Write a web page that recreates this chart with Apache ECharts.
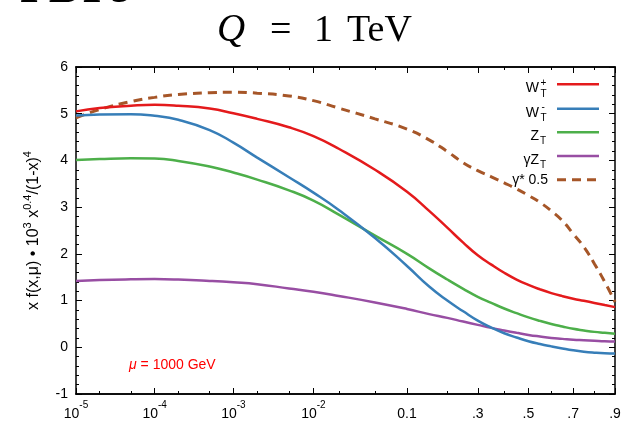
<!DOCTYPE html>
<html><head><meta charset="utf-8">
<script src="https://cdn.jsdelivr.net/npm/echarts@6/dist/echarts.min.js"></script>
<style>html,body{margin:0;padding:0;background:#fff}#c{width:624px;height:426px}</style>
</head><body><div id="c"></div>
<script>
// ---- data ----
const xValues = [1e-5,2e-5,5e-5,1e-4,2e-4,5e-4,1e-3,2e-3,5e-3,0.01,0.02,0.05,0.1,0.15,0.2,0.25,0.3,0.35,0.4,0.45,0.5,0.55,0.6,0.65,0.7,0.75,0.8,0.85,0.9];
const wPlusT  = [5.05,5.12,5.17,5.19,5.17,5.11,5.01,4.89,4.71,4.52,4.25,3.80,3.33,2.92,2.56,2.24,1.97,1.77,1.595,1.45,1.335,1.24,1.16,1.095,1.04,0.995,0.95,0.905,0.86];
const wMinusT = [4.96,4.985,4.99,4.955,4.87,4.65,4.38,4.06,3.64,3.31,2.94,2.34,1.74,1.30,1.00,0.77,0.57,0.42,0.30,0.21,0.13,0.07,0.02,-0.025,-0.065,-0.095,-0.115,-0.128,-0.132];
const zT      = [4.01,4.03,4.045,4.04,3.99,3.87,3.74,3.59,3.36,3.14,2.84,2.39,2.00,1.69,1.45,1.25,1.08,0.95,0.83,0.73,0.64,0.565,0.50,0.445,0.395,0.36,0.33,0.31,0.29];
const gammaZT = [1.42,1.44,1.455,1.46,1.45,1.42,1.39,1.35,1.26,1.19,1.10,0.96,0.82,0.71,0.63,0.55,0.48,0.415,0.36,0.31,0.265,0.23,0.20,0.18,0.16,0.15,0.14,0.13,0.125];
const gammaStarHalf = [4.91,5.09,5.26,5.35,5.41,5.45,5.46,5.44,5.38,5.28,5.12,4.89,4.67,4.44,4.19,3.95,3.78,3.65,3.52,3.39,3.25,3.10,2.92,2.71,2.43,2.15,1.79,1.40,0.97];

const seriesNames = ['W+', 'W-', 'Z', 'gammaZ', 'gammaStar'];
const xMajorTicks = [1e-5,1e-4,1e-3,1e-2,0.1,0.3,0.5,0.7,0.9];
const xTickLabels = ['{b|10}{sup|-5}','{b|10}{sup|-4}','{b|10}{sup|-3}','{b|10}{sup|-2}','{b|0.1}','{b|.3}','{b|.5}','{b|.7}','{b|.9}'];
const xMinorTicks = [2e-5,5e-5,2e-4,5e-4,2e-3,5e-3,0.02,0.05,0.2,0.4,0.6,0.8];
const yMin = -1, yMax = 6, yInterval = 1;

// ---- x scale: log(x) + c*x ----
const T = x => Math.log(x) + 4.87 * x;
const uMin = T(xMajorTicks[0]), uMax = T(xMajorTicks[xMajorTicks.length - 1]);
const majorU = xMajorTicks.map(T);
const minorU = xMinorTicks.map(T);
const pts = arr => xValues.map((x, i) => [T(x), arr[i]]);

const FONT = 'Liberation Sans, Arial, Helvetica, sans-serif';
const SERIF = 'Liberation Serif, Times New Roman, serif';
const colors = ['#e41a1c', '#377eb8', '#4daf4a', '#984ea3', '#a65628'];

function xAxisDef(pos, values, len, labels) {
  return {
    type: 'value', position: pos, min: uMin, max: uMax, offset: 0,
    axisLine: { show: true, onZero: false, lineStyle: { color: '#000', width: 1.5 } },
    splitLine: { show: false },
    axisTick: { show: true, inside: true, length: len, customValues: values, lineStyle: { color: '#000', width: 1 } },
    axisLabel: labels ? {
      show: true, customValues: values, margin: 6, showMinLabel: true, showMaxLabel: true,
      formatter: v => { const i = majorU.findIndex(u => Math.abs(u - v) < 1e-6); return i >= 0 ? xTickLabels[i] : ''; },
      rich: {
        b: { fontSize: 14, lineHeight: 28, fontFamily: FONT, color: '#000' },
        sup: { fontSize: 10, lineHeight: 11, verticalAlign: 'top', fontFamily: FONT, color: '#000' }
      }
    } : { show: false },
    name: labels ? 'x' : '', nameLocation: 'middle', nameGap: 24,
    nameTextStyle: { fontSize: 14, fontFamily: FONT, color: '#000' }
  };
}
function yAxisDef(pos, labels) {
  return {
    type: 'value', position: pos, min: yMin, max: yMax, interval: yInterval,
    axisLine: { show: true, onZero: false, lineStyle: { color: '#000', width: 1.5 } },
    splitLine: { show: false },
    axisTick: { show: true, inside: true, length: 6, lineStyle: { color: '#000' } },
    minorTick: { show: true, splitNumber: 5, length: 3, lineStyle: { color: '#000' } },
    axisLabel: labels ? { show: true, margin: 8, fontSize: 14, fontFamily: FONT, color: '#000' } : { show: false },
    name: labels ? 'x f(x,μ) • 10{sup|3} x{sup|0.4}/(1-x){sup|4}' : '',
    nameLocation: 'middle', nameGap: 30,
    nameTextStyle: {
      fontSize: 16, fontFamily: FONT, color: '#000', lineHeight: 22,
      rich: {
        sup: { fontSize: 11, lineHeight: 12, verticalAlign: 'top', fontFamily: FONT, color: '#000' }
      }
    }
  };
}

const chart = echarts.init(document.getElementById('c'), null, { renderer: 'canvas' });
const dataArrays = [wPlusT, wMinusT, zT, gammaZT, gammaStarHalf];
const series = dataArrays.map((arr, i) => ({
  name: seriesNames[i], type: 'line', data: pts(arr), smooth: 0.5, showSymbol: false, symbol: 'none',
  xAxisIndex: 0, yAxisIndex: 0,
  lineStyle: { color: colors[i], width: i === 4 ? 3 : 2.5, type: i === 4 ? [9, 6] : 'solid' },
  itemStyle: { color: colors[i] },
  z: 5 - i, animation: false
}));

// legend (graphic)
const legendYs = [84.3, 108.7, 132.2, 156, 179.7];
const lg = [];
function mainTxt(t, y) { return { type: 'text', x: 539, y: y + 4, style: { text: t, font: '14px ' + FONT, fill: '#000', align: 'right', verticalAlign: 'middle' } }; }
function smallTxt(t, x, y) { return { type: 'text', x: x, y: y, style: { text: t, font: '10px ' + FONT, fill: '#000', align: 'left', verticalAlign: 'middle' } }; }
lg.push(mainTxt('W', legendYs[0]), smallTxt('+', 540.5, legendYs[0] - 1.5), smallTxt('T', 540.5, legendYs[0] + 9.5));
lg.push(mainTxt('W', legendYs[1]), smallTxt('-', 541.5, legendYs[1] - 1.5), smallTxt('T', 540.5, legendYs[1] + 9.5));
lg.push(mainTxt('Z', legendYs[2]), smallTxt('T', 540, legendYs[2] + 9.5));
lg.push(mainTxt('γZ', legendYs[3]), smallTxt('T', 540, legendYs[3] + 9.5));
lg.push({ type: 'text', x: 548, y: legendYs[4], style: { text: 'γ* 0.5', font: '14px ' + FONT, fill: '#000', align: 'right', verticalAlign: 'middle' } });
legendYs.forEach((y, i) => lg.push({
  type: 'line', shape: { x1: 557, y1: y, x2: 599, y2: y },
  style: { stroke: colors[i], lineWidth: i === 4 ? 3 : 2.5, lineDash: i === 4 ? [9, 6] : null }
}));

const option = {
  backgroundColor: '#fff',
  animation: false,
  grid: { left: 76, right: 9, top: 67, bottom: 32, containLabel: false, outerBoundsMode: 'none' },
  xAxis: [
    xAxisDef('bottom', majorU, 6, true),
    xAxisDef('bottom', minorU, 3, false),
    xAxisDef('top', majorU, 6, false),
    xAxisDef('top', minorU, 3, false)
  ],
  yAxis: [ yAxisDef('left', true), yAxisDef('right', false) ],
  series: series,
  graphic: [
    { type: 'text', x: 20, y: 13, style: { text: 'PDFs', font: 'bold 47px ' + SERIF, fill: '#000', align: 'left', verticalAlign: 'bottom' } },
    { type: 'text', x: 217, y: 31, style: { text: 'Q', font: 'italic 39px ' + SERIF, fill: '#000', align: 'left', verticalAlign: 'middle' } },
    { type: 'text', x: 270, y: 31, style: { text: '=', font: '38px ' + SERIF, fill: '#000', align: 'left', verticalAlign: 'middle' } },
    { type: 'text', x: 314, y: 31, style: { text: '1', font: '38px ' + SERIF, fill: '#000', align: 'left', verticalAlign: 'middle' } },
    { type: 'text', x: 347, y: 31, style: { text: 'TeV', font: '38px ' + SERIF, fill: '#000', align: 'left', verticalAlign: 'middle' } },
    { type: 'text', x: 129, y: 365, style: { text: '{i|μ} = 1000 GeV', font: '14px ' + FONT, fill: '#ff0000', align: 'left', verticalAlign: 'middle',
      rich: { i: { fontStyle: 'italic', fontSize: 14, fontFamily: FONT, color: '#ff0000' } } } }
  ].concat(lg)
};
chart.setOption(option);
</script>
</body></html>
